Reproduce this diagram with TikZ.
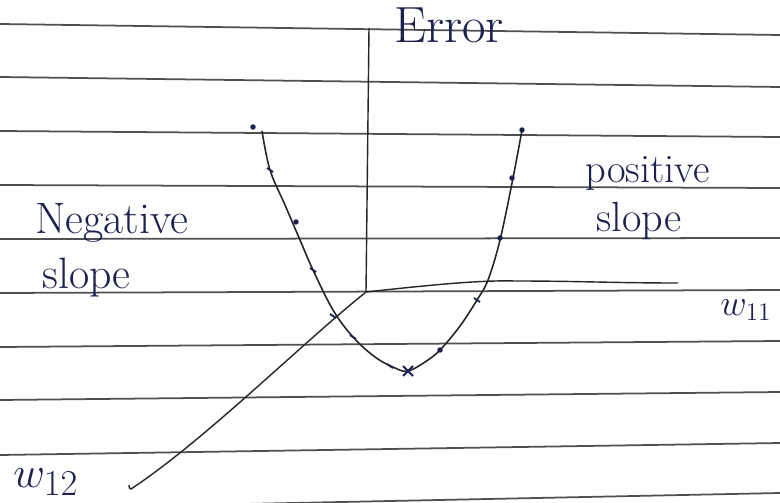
\documentclass[tikz,border=0pt]{standalone}
\usepackage{tikz}
\usetikzlibrary{positioning}
\definecolor{ink}{HTML}{1E2150}
\definecolor{pencil}{HTML}{262626}
\definecolor{rulegray}{HTML}{505050}
\tikzset{
  % ruled paper, axes and the error bowl
  ruled/.style  = {rulegray, line width=1pt},
  axis/.style   = {pencil, line width=0.8pt},
  bowl/.style   = {pencil, line width=0.9pt},
  hand/.style   = {ink, inner sep=0pt, anchor=base west, font=\fontsize{23}{26}\selectfont},
  inkdot/.style = {circle, fill=ink, inner sep=1.1pt},
  inktick/.style = {ink, line width=1.1pt},
}

\begin{document}
\begin{tikzpicture}[x=0.02cm,y=-0.02cm]
\useasboundingbox (0,0) rectangle (780,503);
\fill[white] (0,0) rectangle (780,503);
% ruled lines
\foreach \l/\r in {24/35, 77/87, 131/137, 185/188, 239/238, 293/290, 347/341, 400/392, 455/443, 509/493}
  \draw[ruled] (0,\l) -- (780,\r);
% axes
\coordinate (O) at (366,292);
\coordinate (errtop) at (369,28);
\coordinate (w11mid) at (515,281);
\coordinate (w11end) at (678,283);
\coordinate (w12end) at (131,489);
\draw[axis] (O) -- (errtop);
\draw[axis] (O) .. controls (430,285) and (480,280) .. (w11mid) to[out=0,in=180] (w11end);
\draw[axis] (O) .. controls (300,345) and (205,440) .. (w12end) to[out=200,in=270] (129,485);
% error bowl
\draw[bowl] plot[smooth, tension=0.6] coordinates {(262,131) (270,170) (285,205) (300,240) (313,270)
  (333,310) (353,337) (375,357) (395,368) (408,371) (425,362) (440,350) (460,326) (477,300)
  (488,280) (500,240) (513,178) (522,130)};
\foreach \p in {(253,127), (296,222), (440,350), (500,238), (512,178), (522,130)}
  \node[inkdot] at \p {};
\foreach \x/\y in {270/170, 313/270, 353/337, 333/316, 477/300, 390/366}
  \draw[inktick] (\x-3,\y-2) -- (\x+3,\y+2);
\draw[inktick] (403,366) -- (413,376) (403,376) -- (413,366);
% labels
\node[hand, font=\fontsize{29}{32}\selectfont] (errlbl) at (394,43) {Error};
\node[hand, font=\fontsize{25}{28}\selectfont] (neglbl) at (35,234) {Negative};
\node[hand, font=\fontsize{25}{28}\selectfont] (negslope) at (42,288) {slope};
\node[hand] (poslbl) at (585,182) {positive};
\node[hand, font=\fontsize{24}{27}\selectfont] (posslope) at (596,231) {slope};
\node[hand, font=\fontsize{20}{24}\selectfont] (w11lbl) at (720,315) {$w_{11}$};
\node[hand, font=\fontsize{30}{34}\selectfont] (w12lbl) at (13,487) {$w_{12}$};
\end{tikzpicture}
\end{document}
